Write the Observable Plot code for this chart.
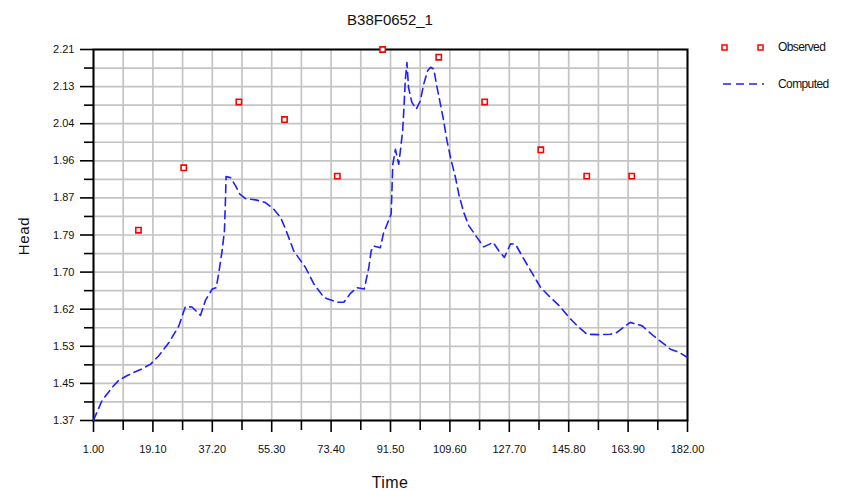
<!DOCTYPE html>
<html>
<head>
<meta charset="utf-8">
<script src="https://cdn.jsdelivr.net/npm/d3@7"></script>
<script src="https://cdn.jsdelivr.net/npm/@observablehq/plot@0.6"></script>
<style>
  html, body { margin: 0; padding: 0; background: #fff; }
  #wrap { position: relative; width: 852px; height: 490px; font-family: "Liberation Sans", Arial, sans-serif; }
  #title { position: absolute; left: 0; width: 780px; top: 11px; text-align: center; font-size: 15px; color: #111; }
  #ylab { position: absolute; left: 23px; top: 236px; transform: translate(-50%, -50%) rotate(-90deg); font-size: 15px; color: #111; letter-spacing: 0.6px; }
  #xlab { position: absolute; left: 0; width: 780px; top: 474px; text-align: center; font-size: 16px; color: #111; letter-spacing: 0.4px; }
  #legend { position: absolute; left: 712px; top: 30px; }
  svg text { font-family: "Liberation Sans", Arial, sans-serif; }
</style>
</head>
<body>
<div id="wrap">
  <div id="title">B38F0652_1</div>
  <div id="ylab">Head</div>
  <div id="xlab">Time</div>
  <svg id="legend" width="140" height="70">
    <rect x="10" y="15" width="5" height="5" fill="#fff" stroke="#ff0000" stroke-width="1.5"/>
    <rect x="46" y="15" width="5" height="5" fill="#fff" stroke="#ff0000" stroke-width="1.5"/>
    <text x="66" y="21" font-size="12" letter-spacing="-0.6" fill="#111">Observed</text>
    <line x1="11" y1="54" x2="52" y2="54" stroke="#1f1fff" stroke-width="1.6" stroke-dasharray="8,5"/>
    <text x="66" y="58" font-size="12" letter-spacing="-0.6" fill="#111">Computed</text>
  </svg>
</div>
<script>
// Observed heads
const obsTime = [14.7, 28.5, 45.3, 59.2, 75.3, 89.1, 106.2, 120.2, 137.3, 151.3, 165.0];
const obsHead = [1.799, 1.941, 2.091, 2.051, 1.922, 2.2105, 2.193, 2.091, 1.982, 1.922, 1.922];

// Computed heads
const compTime = [1, 3.6, 6.7, 8.7, 11.3, 13.3, 15.8, 18.4, 20.9, 24, 27, 29, 31, 33.6, 35.1, 37.2, 38.4, 39.2, 40.2, 40.9, 41.2, 41.4, 42.7, 44.3, 45.6, 47.3, 50.4, 53.4, 55.9, 58, 59.5, 62, 65.6, 68.1, 71.2, 72.2, 75.2, 77.3, 79.3, 81.3, 83.5, 84.9, 85.6, 86.4, 88.4, 89.4, 90.5, 91.7, 92.2, 93, 94, 94.5, 95.2, 95.6, 96, 96.5, 97, 98, 99.4, 100.6, 101.6, 102.8, 103.7, 104.7, 105.5, 106.5, 107.7, 108.7, 109.8, 111.3, 112.3, 113.8, 115.3, 117.9, 119.9, 122.8, 124.5, 126.2, 128.1, 129.6, 131.6, 134.2, 137.2, 140.2, 143.3, 145.8, 148.4, 151.4, 155, 158.5, 160.5, 163, 164.6, 168.2, 171.7, 174.3, 176.8, 179.4, 182];
const compHead = [1.366, 1.411, 1.441, 1.457, 1.468, 1.475, 1.483, 1.494, 1.513, 1.543, 1.581, 1.625, 1.624, 1.605, 1.639, 1.665, 1.668, 1.703, 1.752, 1.798, 1.866, 1.921, 1.919, 1.900, 1.881, 1.871, 1.868, 1.862, 1.847, 1.828, 1.802, 1.752, 1.714, 1.677, 1.646, 1.643, 1.635, 1.635, 1.655, 1.668, 1.665, 1.714, 1.752, 1.763, 1.759, 1.793, 1.813, 1.836, 1.949, 1.983, 1.949, 1.979, 2.026, 2.078, 2.139, 2.181, 2.124, 2.090, 2.075, 2.094, 2.131, 2.162, 2.170, 2.166, 2.131, 2.094, 2.048, 2.003, 1.964, 1.919, 1.881, 1.840, 1.810, 1.782, 1.761, 1.771, 1.752, 1.737, 1.768, 1.767, 1.740, 1.707, 1.669, 1.646, 1.624, 1.601, 1.581, 1.562, 1.561, 1.562, 1.566, 1.581, 1.589, 1.581, 1.558, 1.543, 1.528, 1.521, 1.509];

// Tick values and labels
const xTicks = [1.00, 19.10, 37.20, 55.30, 73.40, 91.50, 109.60, 127.70, 145.80, 163.90, 182.00];
const yTicks = [1.3655, 1.45, 1.5345, 1.619, 1.7035, 1.788, 1.8725, 1.957, 2.0415, 2.126, 2.2105];
const yLabels = ["1.37", "1.45", "1.53", "1.62", "1.70", "1.79", "1.87", "1.96", "2.04", "2.13", "2.21"];

const xMinor = xTicks.slice(1).map((v, i) => (v + xTicks[i]) / 2);
const yMinor = yTicks.slice(1).map((v, i) => (v + yTicks[i]) / 2);
const xGrid = xTicks.concat(xMinor);
const yGrid = yTicks.concat(yMinor);

const observed = obsTime.map((t, i) => ({t, h: obsHead[i]}));
const computed = compTime.map((t, i) => ({t, h: compHead[i]}));

const chart = Plot.plot({
  width: 852,
  height: 490,
  marginLeft: 93,
  marginRight: 165,
  marginTop: 49,
  marginBottom: 70,
  style: {fontFamily: "Liberation Sans, Arial, sans-serif", fontSize: "11px", color: "#111", background: "transparent"},
  x: {domain: [1, 182], label: null},
  y: {domain: [1.3655, 2.2105], label: null},
  marks: [
    Plot.ruleX(xGrid, {stroke: "#c4c4c4", strokeWidth: 1.7, strokeOpacity: 1}),
    Plot.ruleY(yGrid, {stroke: "#c4c4c4", strokeWidth: 1.7, strokeOpacity: 1}),
    Plot.axisY(yMinor, {tickSize: 9, stroke: "#000", strokeWidth: 1.6, tickFormat: () => "", label: null}),
    Plot.axisY(yTicks, {tickSize: 13, tickPadding: 6, stroke: "#000", strokeWidth: 1.6, tickFormat: d => yLabels[yTicks.indexOf(d)], label: null, fontSize: 11, letterSpacing: -0.6}),
    Plot.axisX(xMinor, {tickSize: 10, stroke: "#000", strokeWidth: 1.6, tickFormat: () => "", label: null}),
    Plot.axisX(xTicks, {tickSize: 12, tickPadding: 13, stroke: "#000", strokeWidth: 1.6, tickFormat: d => d.toFixed(2), label: null, fontSize: 11, letterSpacing: -0.6}),
    Plot.frame({stroke: "#000", strokeWidth: 2}),
    Plot.line(computed, {x: "t", y: "h", stroke: "#1f1fff", strokeWidth: 1.6, strokeDasharray: "8,5", curve: "linear"}),
    Plot.dot(observed, {x: "t", y: "h", symbol: "square", r: 3, stroke: "#ff0000", fill: "#fff", strokeWidth: 1.6})
  ]
});
chart.style.position = "absolute";
chart.style.left = "0";
chart.style.top = "0";
document.getElementById("wrap").prepend(chart);
</script>
</body>
</html>
